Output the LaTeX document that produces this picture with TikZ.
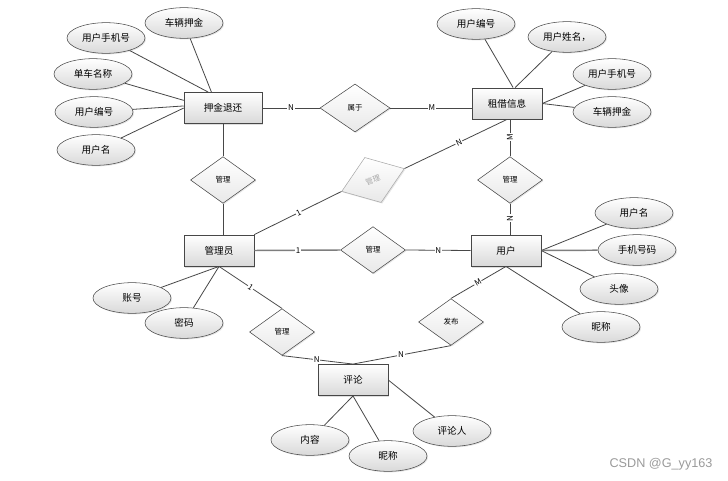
\documentclass[tikz,border=0pt]{standalone}
\usepackage{fontspec}
\setmainfont{Noto Sans CJK SC}
\newfontfamily\markfont{Liberation Sans}
\usepackage{tikz}
\usetikzlibrary{shapes.geometric,shadows}
\definecolor{ERLine}{HTML}{474747}
\definecolor{ERShade}{HTML}{D9D9D9}
\definecolor{ERFaint}{HTML}{A8A8A8}
\definecolor{ERMark}{HTML}{9A9A9A}

\begin{document}
\begin{tikzpicture}[
  x=0.75pt, y=-0.75pt,
  ent/.style={draw=ERLine, top color=white, bottom color=ERShade,
              minimum width=52.5pt, minimum height=23.5pt, inner sep=0pt,
              font=\fontsize{7.2}{8}\selectfont,
              drop shadow={opacity=0.25, shadow xshift=1pt, shadow yshift=-1pt}},
  attr/.style={draw=ERLine, ellipse, top color=white, bottom color=ERShade,
               minimum width=58.5pt, minimum height=23pt, inner sep=0pt,
               font=\fontsize{7.2}{8}\selectfont,
               drop shadow={opacity=0.2, shadow xshift=0.8pt, shadow yshift=-0.8pt}},
  rel/.style={draw=ERLine, diamond, top color=white, bottom color=ERShade!60,
              minimum width=48.75pt, minimum height=35pt, inner sep=0pt,
              font=\fontsize{5.6}{6}\selectfont,
              drop shadow={opacity=0.2, shadow xshift=0.8pt, shadow yshift=-0.8pt}},
  conn/.style={draw=ERLine, line width=0.6pt},
  lab/.style={font=\fontsize{6}{6}\selectfont, fill=white, inner sep=0.6pt}
]
\useasboundingbox (0,0) rectangle (728,481);

% Entities
\node[ent, minimum width=58.5pt] (deposit) at (223,108) {押金退还};
\node[ent] (rental) at (507,103.5) {租借信息};
\node[ent] (admin) at (219,250.5) {管理员};
\node[ent] (user) at (506,250.5) {用户};
\node[ent] (comment) at (353,380) {评论};

% Relationships
\node[rel, minimum width=52.5pt, minimum height=36pt] (belong) at (355,108) {属于};
\node[rel] (mgrA) at (223,180) {管理};
\node[rel, draw=ERFaint, text=ERFaint, rotate=20, minimum width=50pt,
      minimum height=36pt] (mgrB) at (373,180) {管理};
\node[rel] (mgrC) at (510,180) {管理};
\node[rel] (mgrD) at (373,250) {管理};
\node[rel] (mgrE) at (282,332) {管理};
\node[rel] (publish) at (451,322) {发布};

% Attributes of deposit return
\node[attr] (dpCar) at (184,23) {车辆押金};
\node[attr] (dpPhone) at (106,38) {用户手机号};
\node[attr] (dpBike) at (93,74) {单车名称};
\node[attr] (dpId) at (94,112) {用户编号};
\node[attr] (dpName) at (96,150) {用户名};

% Attributes of rental info
\node[attr] (rtId) at (476,24) {用户编号};
\node[attr] (rtName) at (567,37) {用户姓名，};
\node[attr] (rtPhone) at (612,74) {用户手机号};
\node[attr] (rtCar) at (612,112) {车辆押金};

% Attributes of user
\node[attr] (usName) at (634,213) {用户名};
\node[attr] (usPhone) at (637,250) {手机号码};
\node[attr] (usAvatar) at (619,289) {头像};
\node[attr] (usNick) at (601,327) {昵称};

% Attributes of admin
\node[attr] (adAcct) at (132,298) {账号};
\node[attr] (adPwd) at (184,323) {密码};

% Attributes of comment
\node[attr] (cmText) at (310,440) {内容};
\node[attr] (cmNick) at (388,456) {昵称};
\node[attr] (cmUser) at (452,431) {评论人};

% Attribute links
\draw[conn] (dpCar) -- (deposit.126);
\draw[conn] (dpPhone) -- (deposit.133);
\draw[conn] (dpBike) -- (deposit.169);
\draw[conn] (dpId) -- (deposit.177);
\draw[conn] (dpName) -- (deposit.west);
\draw[conn] (rtId) -- (rental.69);
\draw[conn] (rtName) -- (rental.63);
\draw[conn] (rtPhone) -- (rental.east);
\draw[conn] (rtCar) -- (rental.east);
\draw[conn] (usName) -- (user.east);
\draw[conn, line width=1.1pt, draw=ERLine!70] (usPhone) -- (user.east);
\draw[conn] (usAvatar) -- (user.east);
\draw[conn] (usNick) -- (user.south);
\draw[conn] (adAcct) -- (admin.south);
\draw[conn] (adPwd) -- (admin.south);
\draw[conn] (cmText) -- (comment.south);
\draw[conn] (cmNick) -- (comment.south);
\draw[conn] (cmUser) -- (comment.east);

% Relationship links
\draw[conn] (deposit.east) -- node[lab] {N} (belong.west);
\draw[conn] (belong.east) -- node[lab, pos=0.51] {M} (belong.east -| rental.west);
\draw[conn] (deposit.south) -- (mgrA.north);
\draw[conn] (mgrA.south) -- (mgrA.south |- admin.north);
\draw[conn] (mgrC.north) -- node[lab, rotate=90, pos=0.53] {M} (mgrC.north |- rental.south);
\draw[conn] (mgrC.south) -- node[lab, rotate=90, pos=0.47] {N} (mgrC.south |- user.north);
\draw[conn] (mgrB.east) -- node[lab, sloped, pos=0.53] {N} (rental.south);
\draw[conn] (admin.north east) -- node[lab, sloped, pos=0.51] {1} (mgrB.west);
\draw[conn, line width=1.1pt, draw=ERLine!70] (admin.east) -- node[lab, pos=0.51] {1} (mgrD.west);
\draw[conn] (mgrD.east) -- node[lab] {N} (user.west);
\draw[conn] (admin.south) -- node[lab, sloped, pos=0.5] {1} (mgrE.north);
\draw[conn] (mgrE.south) -- node[lab, pos=0.49] {N} (comment.north);
\draw[conn] (publish.south) -- node[lab, pos=0.51] {N} (comment.north);
\draw[conn] (publish.north) -- node[lab, sloped, pos=0.49] {M} (user.south);

% Watermark
\node[font=\markfont\fontsize{9.5}{10}\selectfont, text=ERMark] (mark) at (661,464) {CSDN @G\_yy163};

\end{tikzpicture}
\end{document}
